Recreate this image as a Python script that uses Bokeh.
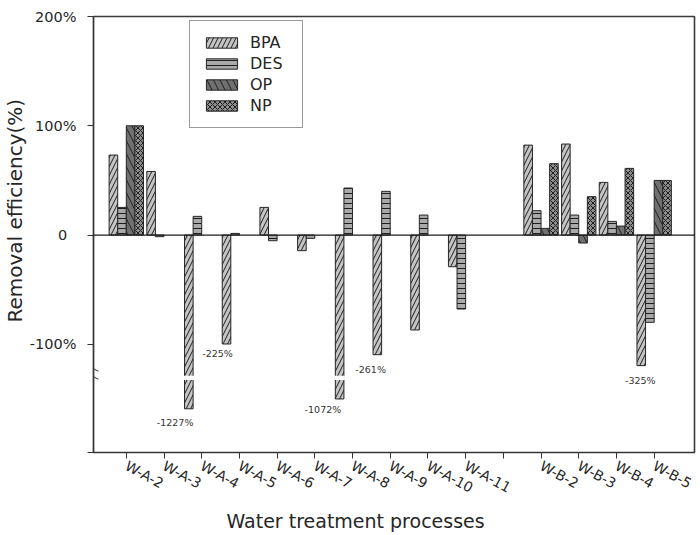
import math
from bokeh.plotting import figure
from bokeh.models import (Range1d, FixedTicker, ColumnDataSource, Legend, LegendItem,
                          Label, LabelSet, Span, Title)
from bokeh.core.properties import value
from bokeh.transform import dodge
from bokeh.embed import file_html
from bokeh.resources import INLINE

nan = float("nan")

# ---- data (bar heights as drawn on the broken axis, in %) ----
categories = ["W-A-2", "W-A-3", "W-A-4", "W-A-5", "W-A-6", "W-A-7", "W-A-8", "W-A-9",
              "W-A-10", "W-A-11", "", "W-B-2", "W-B-3", "W-B-4", "W-B-5"]
bpa = [73.2, 58.2, -159.0, -99.7, 25.3, -14.3, -150.0, -109.5, -86.9, -29.0, nan,
       82.3, 83.3, 48.2, -119.5]
des = [25.3, -1.5, 17.1, 1.5, -5.2, -3.0, 43.0, 40.0, 18.3, -67.7, nan,
       22.3, 18.3, 12.5, -79.9]
op = [100.0, nan, nan, nan, nan, nan, nan, nan, nan, nan, nan,
      6.1, -7.3, 8.2, 50.0]
nph = [100.0, nan, nan, nan, nan, nan, nan, nan, nan, nan, nan,
       65.3, 35.1, 61.0, 50.0]

# true values of the BPA bars that run past the axis range
note_cat = ["W-A-4", "W-A-5", "W-A-8", "W-A-9", "W-B-5"]
note_text = ["-1227%", "-225%", "-1072%", "-261%", "-325%"]

y_ticks = [200, 100, 0, -100]
y_tick_labels = ["200%", "100%", "0\u2007", "-100%"]

series = ["BPA", "DES", "OP", "NP"]

# ---- styling ----
FONT = "DejaVu Sans"
TXT = "#262626"
BW = 0.228                       # bar width (category units)
offs = [-1.5 * BW, -0.5 * BW, 0.5 * BW, 1.5 * BW]
fills = ["#c4c4c4", "#a9a9a9", "#707070", "#8e8e8e"]
hatches = ["/", "-", "\\", "x"]
hscales = [9, 5, 13, 5]
BREAK_LO, BREAK_HI = -132.7, -128.7

xs = list(range(len(categories)))
src = ColumnDataSource(dict(x=xs, BPA=bpa, DES=des, OP=op, NP=nph))

p = figure(frame_width=601, frame_height=436,
           x_range=Range1d(-0.87, 15.07), y_range=Range1d(-199, 200),
           output_backend="svg", toolbar_location=None,
           min_border_left=93, min_border_top=16, min_border_right=4, min_border_bottom=70)

p.background_fill_color = "white"
p.border_fill_color = "white"
p.outline_line_color = "#3a3a3a"
p.outline_line_width = 1.6
p.xgrid.visible = False
p.ygrid.visible = False

renderers = []
for s, o, fc, h, hs in zip(series, offs, fills, hatches, hscales):
    r = p.vbar(x=dodge("x", o, range=p.x_range), top=s, bottom=0, width=BW, source=src,
               fill_color=fc, line_color="#262626", line_width=1,
               hatch_pattern=h, hatch_color="#1e1e1e", hatch_scale=hs, hatch_weight=1)
    renderers.append(r)

# white gaps marking the broken bars
gap_x = [x for x, v in zip(xs, bpa) if v == v and v < BREAK_LO]
gsrc = ColumnDataSource(dict(x=gap_x))
p.vbar(x=dodge("x", offs[0], range=p.x_range), top=BREAK_HI, bottom=BREAK_LO,
       width=BW + 0.05, source=gsrc, fill_color="white", line_color=None)

p.add_layout(Span(location=0, dimension="width", line_color="#1a1a1a", line_width=1.2))

# annotations of true values under broken bars
n_idx = [categories.index(c) for c in note_cat]
nsrc = ColumnDataSource(dict(
    x=[xs[i] + offs[0] for i in n_idx],
    y=[bpa[i] for i in n_idx],
    t=note_text,
    dx=[-13.7, -9.0, -16.7, -6.7, -1.0],
    dy=[-13.4, -10.0, -11.0, -14.3, -15.0]))
p.add_layout(LabelSet(x="x", y="y", text="t", x_offset="dx", y_offset="dy", source=nsrc,
                      text_font=value(FONT), text_font_size=value("9.5px"),
                      text_color="#333333",
                      text_align="center", text_baseline="middle"))

# axes
xa = p.xaxis[0]
xa.ticker = FixedTicker(ticks=xs)
xa.major_label_overrides = {x: c for x, c in zip(xs, categories)}
xa.major_label_orientation = -0.5
xa.major_label_text_font = FONT
xa.major_label_text_font_size = "14px"
xa.major_label_text_color = TXT
xa.major_label_standoff = 6
xa.axis_line_color = "#333333"
xa.axis_line_width = 1.2
xa.major_tick_line_color = "#333333"
xa.major_tick_out = 6
xa.major_tick_in = 0
xa.minor_tick_line_color = None

ya = p.yaxis[0]
ya.ticker = FixedTicker(ticks=[-199] + y_ticks)
ov = {-199: ""}
ov.update({v: t for v, t in zip(y_ticks, y_tick_labels)})
ya.major_label_overrides = ov
ya.major_label_text_font = FONT
ya.major_label_text_font_size = "14.5px"
ya.major_label_text_color = TXT
ya.major_label_standoff = 11
ya.axis_line_color = "#333333"
ya.axis_line_width = 1.2
ya.major_tick_line_color = "#333333"
ya.major_tick_out = 6
ya.major_tick_in = 0
ya.minor_tick_line_color = None

# axis break marks
for yb in (-121.4, -128.7):
    p.add_layout(Label(x=-0.87, y=yb, text="\u2014", angle=-0.5,
                       text_font=FONT, text_font_size="13px", text_color="#333333",
                       text_align="center", text_baseline="middle"))

# axis titles
p.add_layout(Title(text="Removal efficiency(%)", align="left", offset=130, standoff=0,
                   text_font=FONT, text_font_size="20px", text_font_style="normal",
                   text_color=TXT), "left")
p.add_layout(Title(text="Water treatment processes", align="left", offset=133, standoff=4,
                   text_font=FONT, text_font_size="19px", text_font_style="normal",
                   text_color=TXT), "below")

legend = Legend(items=[LegendItem(label=s, renderers=[r]) for s, r in zip(series, renderers)],
                location=(96, 324), margin=0, padding=12, spacing=2,
                glyph_width=39, glyph_height=13, label_height=19, label_width=40,
                label_standoff=9, label_text_font=FONT, label_text_font_size="16px",
                label_text_color=TXT, label_text_baseline="middle",
                border_line_color="#333333", border_line_width=1.3,
                background_fill_color="white", background_fill_alpha=1.0)
p.add_layout(legend)

open("out.html", "w").write(file_html(p, INLINE))
